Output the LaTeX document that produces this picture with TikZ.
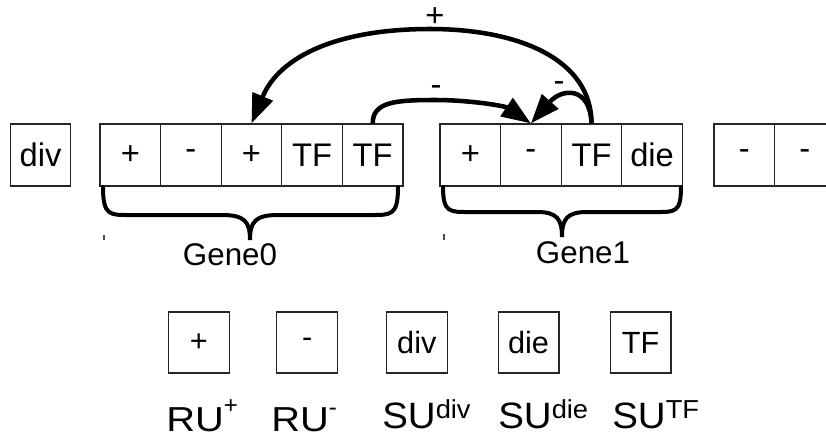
\documentclass[tikz,border=0pt]{standalone}
\usepackage{fontspec}
\setmainfont{Liberation Sans}
\usetikzlibrary{arrows.meta}
% unit names with a raised index: regulatory and structural units
\newcommand\runame[2]{\scalebox{1.15}[1]{RU}\raisebox{#1}{\fontsize{18pt}{18pt}\selectfont #2}}
\newcommand\suname[1]{\scalebox{1.05}[1]{SU\raisebox{7.3pt}{\fontsize{19.5pt}{19.5pt}\selectfont #1}}}
\begin{document}
\begin{tikzpicture}[x=0.75pt,y=-0.75pt,
  cell/.style={draw=black!85, line width=0.9pt, minimum width=45.45pt,
    minimum height=46.5pt, inner sep=0pt, font=\fontsize{24.5pt}{28pt}\selectfont},
  key/.style={draw=black!85, line width=0.9pt, minimum width=45.5pt,
    minimum height=45.75pt, inner sep=0pt, font=\fontsize{23pt}{26pt}\selectfont},
  runit/.style={anchor=base west, inner sep=0pt, font=\fontsize{26pt}{30pt}\selectfont},
  sunit/.style={anchor=base west, inner sep=0pt, font=\fontsize{27.5pt}{32pt}\selectfont},
  genename/.style={inner sep=0pt, font=\fontsize{23.5pt}{28pt}\selectfont},
  sign/.style={anchor=base, inner sep=0pt, font=\fontsize{24.5pt}{28pt}\selectfont},
  link/.style={line width=3.4pt, -{Triangle[length=22pt,width=16pt]}},
  bracepath/.style={line width=3pt, line cap=round},
  tick/.style={line width=0.8pt, black!70},
]
\clip (0,0) rectangle (826,440);

% genome row
\node[cell] (dv)  at (40.5,155)  {div};
\node[cell] (g0a) at (130.3,155) {+};
\node[cell] (g0b) at (190.9,155) {-};
\node[cell] (g0c) at (251.5,155) {+};
\node[cell] (g0d) at (312.1,155) {TF};
\node[cell] (g0e) at (372.7,155) {TF};
\node[cell] (g1a) at (470.3,155) {+};
\node[cell] (g1b) at (530.9,155) {-};
\node[cell] (g1c) at (591.5,155) {TF};
\node[cell] (g1d) at (652.1,155) {die};
\node[cell] (r1)  at (744.3,155) {-};
\node[cell] (r2)  at (804.9,155) {-};

% regulatory links
\draw[link] (g1c.north) .. controls (591.5,60) and (520,29) .. (430,29)
  .. controls (340,29) and (280,55) .. (g0c.north);
\draw[link] (g0e.north) .. controls (372.7,102) and (395,100) .. (435,100)
  .. controls (470,100) and (505,106) .. (g1b.north);
\draw[link] (g1c.north) .. controls (590,86) and (562,88) .. (g1b.north);

\node[sign] (lp)  at (435,26)  {+};
\node[sign] (lm1) at (436,95.5) {-};
\node[sign] (lm2) at (559,91.5) {-};

% gene braces
\draw[bracepath] (103,187) .. controls (103,216) and (110,215) .. (130,215)
  -- (222,215) .. controls (245,215) and (250,222) .. (250,240)
  .. controls (250,222) and (255,215) .. (278,215)
  -- (370,215) .. controls (391,215) and (398,216) .. (398,187);
\draw[bracepath] (443,187) .. controls (443,213) and (450,212) .. (470,212)
  -- (537,212) .. controls (557,212) and (562,219) .. (562,237)
  .. controls (562,219) and (567,212) .. (587,212)
  -- (655,212) .. controls (675,212) and (681,213) .. (681,187);
\draw[tick] (104,235) -- (104,240);
\draw[tick] (444,234) -- (444,240);

\node[genename] (n0) at (230,255) {Gene0};
\node[genename] (n1) at (583,253) {Gene1};

% unit legend
\node[key] (kp)  at (198.8,342.5) {+};
\node[key] (km)  at (307.2,342.5) {-};
\node[key] (kdv) at (416.8,342.5) {div};
\node[key] (kde) at (528.6,342.5) {die};
\node[key] (ktf) at (640.7,342.5) {TF};

\node[runit] (up)  at (166,431) {\runame{13pt}{+}};
\node[runit] (um)  at (271,431) {\runame{12pt}{-}};
\node[sunit] (udv) at (382,428) {\suname{div}};
\node[sunit] (ude) at (498,428) {\suname{die}};
\node[sunit] (utf) at (612,428) {\suname{TF}};
\end{tikzpicture}
\end{document}
